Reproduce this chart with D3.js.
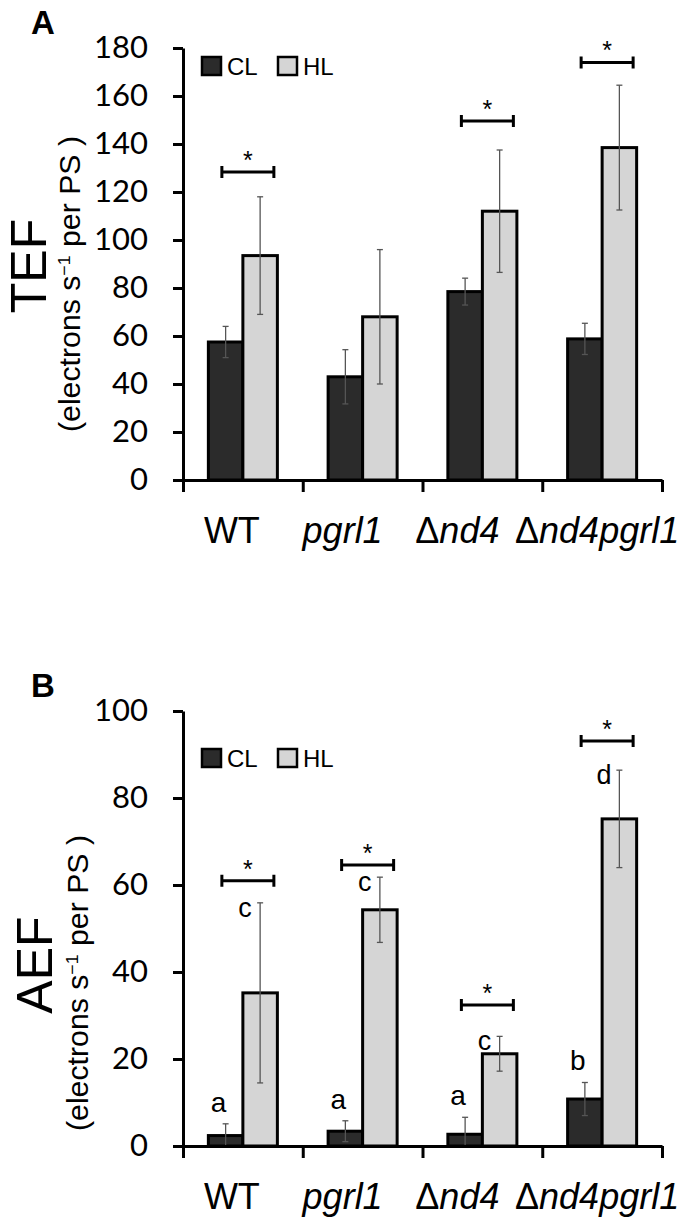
<!DOCTYPE html>
<html>
<head>
<meta charset="utf-8">
<script src="https://cdn.jsdelivr.net/npm/d3@7"></script>
<style>
  body { margin: 0; background: #fff; }
  svg { display: block; }
</style>
</head>
<body>
<div id="chart"></div>
<script>
// categories and series
const categories = ["WT", "pgrl1", "Δnd4", "Δnd4pgrl1"];
const series = ["CL", "HL"];

// panel A: TEF
const tefTicks = [0, 20, 40, 60, 80, 100, 120, 140, 160, 180];
const tefCL = [57.5, 43, 78.5, 58.8];
const tefCLErr = [6.5, 11.3, 5.6, 6.5];
const tefHL = [93.5, 68, 112, 138.5];
const tefHLErr = [24.5, 28, 25.5, 26];
const tefStars = [128.3, null, 149.6, 174];

// panel B: AEF
const aefTicks = [0, 20, 40, 60, 80, 100];
const aefCL = [2.4, 3.4, 2.7, 10.8];
const aefCLErr = [2.7, 2.4, 3.9, 3.8];
const aefHL = [35.2, 54.3, 21.2, 75.2];
const aefHLErr = [20.7, 7.5, 4, 11.2];
const aefStars = [61, 64.6, 32.4, 93.1];
const aefLettersCL = ["a", "a", "a", "b"];
const aefLettersHL = ["c", "c", "c", "d"];

const W = 687, H = 1223;
const colors = { CL: "#2b2b2b", HL: "#d5d5d5" };
const labelNudge = [-11, -20, -25, -5];
const sans = "Liberation Sans, Arial, sans-serif";

const svg = d3.select("#chart").append("svg")
    .attr("width", W)
    .attr("height", H);

const x0 = d3.scaleBand().domain(categories).range([183, 662]).padding(0);
const x1 = d3.scaleBand().domain(series).range([0, x0.bandwidth()])
    .paddingInner(0).paddingOuter(0.735);
const xEdges = d3.scaleLinear().domain([0, categories.length]).range([183, 662]);

function drawPanel(opts) {
    const y = d3.scaleLinear().domain([0, opts.max]).range([opts.bottom, opts.top]);
    const g = svg.append("g");

    // panel letter
    g.append("text")
        .attr("x", 31)
        .attr("y", opts.top - 14)
        .style("font-family", sans)
        .style("font-weight", "bold")
        .style("font-size", "33px")
        .text(opts.letter);

    // y axis
    const yAxis = g.append("g")
        .attr("transform", "translate(183,0)")
        .call(d3.axisLeft(y).tickValues(opts.ticks).tickSize(10).tickSizeOuter(0).tickPadding(25));
    yAxis.select(".domain").attr("stroke-width", 3);
    yAxis.selectAll(".tick line").attr("stroke-width", 3);
    yAxis.selectAll(".tick text")
        .style("font-family", "Lato, sans-serif")
        .style("font-size", "31px");

    // y titles
    g.append("text")
        .attr("transform", `translate(${opts.titleX},${opts.titleY}) rotate(-90)`)
        .attr("text-anchor", "middle")
        .style("font-family", sans)
        .style("font-size", "50px")
        .text(opts.title);
    const sub = g.append("text")
        .attr("transform", `translate(${opts.subX},${opts.titleY + 18}) rotate(-90)`)
        .attr("text-anchor", "middle")
        .attr("textLength", 296)
        .attr("lengthAdjust", "spacingAndGlyphs")
        .style("font-family", sans)
        .style("font-size", "29px");
    sub.append("tspan").text("(electrons s");
    sub.append("tspan").attr("dy", -10).style("font-size", "17px").text("−1");
    sub.append("tspan").attr("dy", 10).text(" per PS )");

    // bars
    const rows = categories.map((c, i) => ({
        cat: c, i: i,
        vals: [
            { s: "CL", v: opts.cl[i], e: opts.clErr[i] },
            { s: "HL", v: opts.hl[i], e: opts.hlErr[i] }
        ]
    }));

    const groups = g.selectAll(".grp")
        .data(rows)
        .enter().append("g")
        .attr("class", "grp")
        .attr("transform", d => `translate(${x0(d.cat)},0)`);

    groups.selectAll("rect")
        .data(d => d.vals)
        .enter().append("rect")
        .attr("x", d => x1(d.s))
        .attr("y", d => y(d.v))
        .attr("width", x1.bandwidth())
        .attr("height", d => y(0) - y(d.v))
        .attr("fill", d => colors[d.s])
        .attr("stroke", "#000")
        .attr("stroke-width", 3);

    // error bars
    const err = groups.selectAll(".err")
        .data(d => d.vals)
        .enter().append("g")
        .attr("class", "err")
        .attr("stroke", "#555")
        .attr("stroke-width", 1.3);
    const cx = d => x1(d.s) + x1.bandwidth() / 2;
    err.append("line")
        .attr("x1", cx).attr("x2", cx)
        .attr("y1", d => y(d.v + d.e)).attr("y2", d => y(Math.max(0, d.v - d.e)));
    err.append("line")
        .attr("x1", d => cx(d) - 3).attr("x2", d => cx(d) + 3)
        .attr("y1", d => y(d.v + d.e)).attr("y2", d => y(d.v + d.e));
    err.filter(d => d.v - d.e > 0).append("line")
        .attr("x1", d => cx(d) - 3).attr("x2", d => cx(d) + 3)
        .attr("y1", d => y(d.v - d.e)).attr("y2", d => y(d.v - d.e));

    // x axis
    const xAxis = g.append("g")
        .attr("transform", `translate(0,${opts.bottom})`)
        .call(d3.axisBottom(xEdges).tickValues(d3.range(categories.length + 1))
            .tickSize(12).tickSizeOuter(0).tickFormat(""));
    xAxis.select(".domain").attr("stroke-width", 3);
    xAxis.selectAll(".tick line").attr("stroke-width", 3);

    // category labels, Δ upright, gene names italic
    const cat = g.selectAll(".cat")
        .data(categories)
        .enter().append("text")
        .attr("class", "cat")
        .attr("x", (d, i) => x0(d) + x0.bandwidth() / 2 + labelNudge[i])
        .attr("y", opts.bottom + 63)
        .attr("text-anchor", "middle")
        .style("font-family", sans)
        .style("font-size", "36px");
    cat.each(function (d) {
        const t = d3.select(this);
        if (d === "WT") { t.text(d); return; }
        if (d.startsWith("Δ")) t.append("tspan").text("Δ");
        t.append("tspan").style("font-style", "italic").text(d.replace("Δ", ""));
    });

    // significance brackets
    const stars = opts.stars.map((v, i) => ({ v: v, cat: categories[i] })).filter(d => d.v != null);
    const br = g.selectAll(".br")
        .data(stars)
        .enter().append("g")
        .attr("class", "br")
        .attr("transform", d => `translate(${x0(d.cat) + x0.bandwidth() / 2 + 5},${y(d.v)})`);
    br.append("path")
        .attr("d", "M-26,-6V6M-26,0H26M26,-6V6")
        .attr("fill", "none")
        .attr("stroke", "#000")
        .attr("stroke-width", 3);
    br.append("text")
        .attr("y", -3)
        .attr("text-anchor", "middle")
        .style("font-family", sans)
        .style("font-size", "25px")
        .text("*");

    // group letters
    if (opts.lettersCL) {
        g.selectAll(".lcl")
            .data(categories)
            .enter().append("text")
            .attr("x", d => x0(d) + x1("CL") + x1.bandwidth() / 2 - 7)
            .attr("y", (d, i) => y(opts.cl[i] + opts.clErr[i]) - 12)
            .attr("text-anchor", "middle")
            .style("font-family", sans)
            .style("font-size", "28px")
            .text((d, i) => opts.lettersCL[i]);
        g.selectAll(".lhl")
            .data(categories)
            .enter().append("text")
            .attr("x", d => x0(d) + x0.bandwidth() / 2 + 2)
            .attr("y", (d, i) => y(opts.hl[i] + opts.hlErr[i]) + 14)
            .attr("text-anchor", "middle")
            .style("font-family", sans)
            .style("font-size", "27px")
            .text((d, i) => opts.lettersHL[i]);
    }

    // legend
    const leg = g.append("g")
        .attr("transform", `translate(202,${opts.legendY})`);
    const item = leg.selectAll(".li")
        .data(series)
        .enter().append("g")
        .attr("transform", (d, i) => `translate(${i * 76},0)`);
    item.append("rect")
        .attr("x", 0).attr("y", -9)
        .attr("width", 19).attr("height", 18)
        .attr("fill", d => colors[d])
        .attr("stroke", "#000")
        .attr("stroke-width", 2.5);
    item.append("text")
        .attr("x", 25).attr("y", 9)
        .style("font-family", sans)
        .style("font-size", "24px")
        .text(d => d);
}

drawPanel({
    letter: "A", title: "TEF", max: 180, top: 48, bottom: 480,
    ticks: tefTicks, cl: tefCL, clErr: tefCLErr, hl: tefHL, hlErr: tefHLErr,
    stars: tefStars, legendY: 66, titleX: 46, subX: 80, titleY: 266
});

drawPanel({
    letter: "B", title: "AEF", max: 100, top: 711, bottom: 1146,
    ticks: aefTicks, cl: aefCL, clErr: aefCLErr, hl: aefHL, hlErr: aefHLErr,
    stars: aefStars, lettersCL: aefLettersCL, lettersHL: aefLettersHL,
    legendY: 758, titleX: 52, subX: 88, titleY: 965
});
</script>
</body>
</html>
